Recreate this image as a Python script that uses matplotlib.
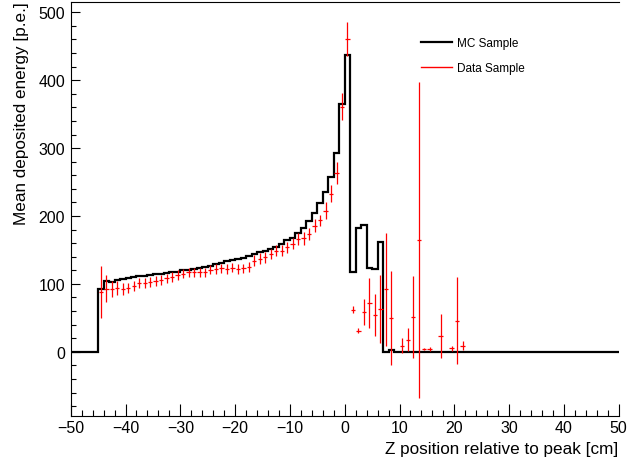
import numpy as np
import matplotlib
matplotlib.use("Agg")
import matplotlib.pyplot as plt
from matplotlib.ticker import MultipleLocator
from matplotlib.lines import Line2D

plt.rcParams['font.family'] = ['Liberation Sans', 'DejaVu Sans']

# MC histogram: bin edges every 1 cm from -50 to 50
mc_edges = np.arange(-50, 51, 1)
mc_nonzero_start = -45
mc_values_nonzero = [
    92, 104, 103, 106, 107, 108, 110, 111, 112, 113,   # -45 .. -36
    114, 115, 116, 117, 118, 120, 121, 122, 124, 125,  # -35 .. -26
    127, 129, 131, 133, 135, 136, 138, 141, 144, 147,  # -25 .. -16
    149, 152, 155, 159, 164, 168, 175, 182, 193, 204,  # -15 .. -6
    219, 236, 257, 293, 365,                           # -5 .. -1
    437, 118, 183, 187, 124, 122, 162, 0, 2,           # 0 .. 8
]

# Data sample
data_x = [
    -44.5, -43.5, -42.5, -41.5, -40.5, -39.5, -38.5, -37.5, -36.5, -35.5,
    -34.5, -33.5, -32.5, -31.5, -30.5, -29.5, -28.5, -27.5, -26.5, -25.5,
    -24.5, -23.5, -22.5, -21.5, -20.5, -19.5, -18.5, -17.5, -16.5, -15.5,
    -14.5, -13.5, -12.5, -11.5, -10.5, -9.5, -8.5, -7.5, -6.5, -5.5,
    -4.5, -3.5, -2.5, -1.5, -0.5, 0.5,
    1.5, 2.5, 3.5, 4.5, 5.5, 6.5, 7.5, 8.5, 10.5, 11.5,
    12.5, 13.5, 14.5, 15.5, 17.5, 19.5, 20.5, 21.5,
]
data_y = [
    88, 93, 93, 94, 93, 94, 97, 101, 101, 103,
    104, 106, 108, 110, 113, 115, 117, 117, 117, 117,
    121, 122, 123, 122, 124, 122, 123, 125, 134, 137,
    139, 144, 149, 149, 154, 159, 166, 167, 173, 186,
    194, 208, 233, 263, 361, 460,
    62, 31, 59, 72, 54, 63, 92, 50, 9, 18,
    51, 165, 4, 4, 23, 5, 46, 9,
]
data_err = [
    38, 20, 12, 10, 9, 8, 8, 7, 7, 7,
    7, 7, 7, 7, 7, 7, 7, 7, 7, 7,
    7, 7, 7, 7, 7, 7, 7, 7, 8, 8,
    8, 8, 8, 8, 8, 8, 9, 9, 9, 9,
    8, 12, 13, 16, 20, 25,
    5, 4, 19, 37, 31, 50, 83, 69, 11, 17,
    60, 233, 2, 3, 32, 4, 64, 7,
]

labels = ["MC Sample", "Data Sample"]

mc_values = np.zeros(len(mc_edges) - 1)
i0 = int(np.where(mc_edges == mc_nonzero_start)[0][0])
mc_values[i0:i0 + len(mc_values_nonzero)] = mc_values_nonzero

fig = plt.figure(figsize=(6.27, 4.60), dpi=100)
ax = fig.add_axes([0.1128, 0.0928, 0.9868 - 0.1128, 0.9941 - 0.0928])

ax.stairs(mc_values, mc_edges, color='black', linewidth=1.6, baseline=None)
ax.errorbar(data_x, data_y, yerr=data_err, xerr=0.4, fmt='none',
            ecolor='red', elinewidth=0.9, capsize=0)

ax.set_xlim(-50, 50)
ax.set_ylim(-95, 515.6)

ax.xaxis.set_major_locator(MultipleLocator(10))
ax.xaxis.set_minor_locator(MultipleLocator(2))
ax.yaxis.set_major_locator(MultipleLocator(100))
ax.yaxis.set_minor_locator(MultipleLocator(20))
ax.tick_params(axis='x', which='major', direction='in', length=8.6, width=0.8,
               labelsize=11.5, pad=3, top=False)
ax.tick_params(axis='x', which='minor', direction='in', length=4.3, width=0.8, top=False)
ax.tick_params(axis='y', which='major', direction='in', length=6.5, width=0.8,
               labelsize=11.5, pad=4, right=False)
ax.tick_params(axis='y', which='minor', direction='in', length=3.3, width=0.8, right=False)
for s in ax.spines.values():
    s.set_linewidth(0.8)
ax.spines['right'].set_visible(False)

ax.set_xlabel("Z position relative to peak [cm]", fontsize=12.3, loc='right', labelpad=4)
ax.set_ylabel("Mean deposited energy [p.e.]", fontsize=12.3, loc='top', labelpad=7)

handles = [Line2D([], [], color='black', linewidth=1.6),
           Line2D([], [], color='red', linewidth=1.0)]
ax.legend(handles, labels, loc='upper left', bbox_to_anchor=(0.62, 0.94),
          frameon=False, fontsize=8.5, handlelength=2.6, handletextpad=0.45,
          labelspacing=1.1)

fig.savefig("out.png", dpi=100)
